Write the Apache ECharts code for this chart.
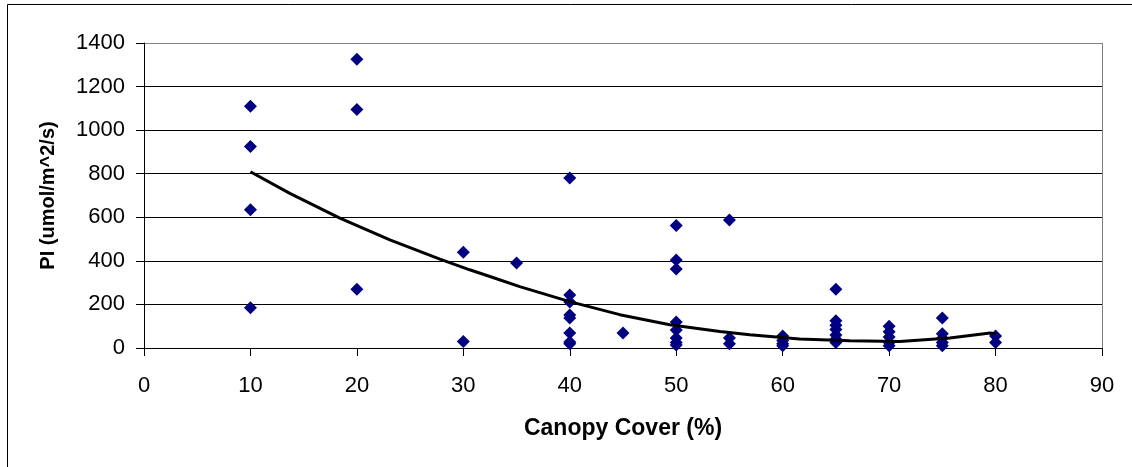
<!DOCTYPE html>
<html>
<head>
<meta charset="utf-8">
<script src="https://cdn.jsdelivr.net/npm/echarts@6/dist/echarts.min.js"></script>
<style>
  html, body { margin: 0; padding: 0; background: #fff; }
  #chart { width: 1132px; height: 467px; }
</style>
</head>
<body>
<div id="chart"></div>
<script>
// canopy cover (%) and PI values
var cover10 = [1110, 925, 635, 185];
var cover20 = [1325, 1095, 270];
var cover30 = [440, 30];
var cover35 = [390];
var cover40 = [780, 243, 211, 151, 138, 69, 28, 20];
var cover45 = [69];
var cover50 = [562, 404, 363, 119, 83, 46, 25, 14];
var cover55 = [588, 46, 20];
var cover60 = [55, 35, 20, 10];
var cover65 = [270, 125, 105, 85, 60, 40, 25];
var cover70 = [100, 75, 50, 25, 10];
var cover75 = [138, 65, 45, 25, 10];
var cover80 = [55, 25];

// trend line
var trendX = [10, 13.7, 18.4, 23.1, 27.8, 30.6, 32.5, 35.3, 40.0, 44.7, 49.4, 54.1, 56.9, 61.6, 66.3, 71.0, 75.7, 79.5, 80];
var trendY = [809, 710, 596, 496, 408, 359, 328, 282, 213, 153, 107, 76, 61, 41, 33, 30, 46, 69, 66];

var groups = [
  [10, cover10], [20, cover20], [30, cover30], [35, cover35], [40, cover40],
  [45, cover45], [50, cover50], [55, cover55], [60, cover60], [65, cover65],
  [70, cover70], [75, cover75], [80, cover80]
];
var points = [];
groups.forEach(function (g) {
  g[1].forEach(function (v) { points.push([g[0], v]); });
});
var trend = trendX.map(function (x, i) { return [x, trendY[i]]; });

var font = "Liberation Sans, Arial, sans-serif";
var chart = echarts.init(document.getElementById("chart"));
chart.setOption({
  animation: false,
  backgroundColor: "#fff",
  grid: { left: 144, right: 30, top: 43, bottom: 119, containLabel: false },
  graphic: [{
    type: "rect",
    shape: { x: 7.5, y: 4.5, width: 1140, height: 480 },
    style: { fill: "none", stroke: "#000", lineWidth: 1 },
    silent: true
  }],
  xAxis: {
    type: "value",
    min: 0, max: 90, interval: 10,
    name: "Canopy Cover (%)",
    nameLocation: "middle",
    nameGap: 69,
    nameTextStyle: { fontFamily: font, fontSize: 23, fontWeight: "bold", color: "#000" },
    axisLine: { show: true, lineStyle: { color: "#000", width: 1 } },
    axisTick: { show: true, inside: false, length: 8, lineStyle: { color: "#000" } },
    axisLabel: { fontFamily: font, fontSize: 22, color: "#000", margin: 27 },
    splitLine: {
      show: true,
      lineStyle: { color: ["transparent", "transparent", "transparent", "transparent", "transparent",
                           "transparent", "transparent", "transparent", "transparent", "#808080"], width: 1 }
    }
  },
  yAxis: {
    type: "value",
    min: 0, max: 1400, interval: 200,
    name: "PI (umol/m^2/s)",
    nameLocation: "middle",
    nameGap: 86,
    nameTextStyle: { fontFamily: font, fontSize: 20, fontWeight: "bold", color: "#000" },
    axisLine: { show: true, lineStyle: { color: "#000", width: 1 } },
    axisTick: { show: true, inside: false, length: 8, lineStyle: { color: "#000" } },
    axisLabel: {
      fontFamily: font, fontSize: 22, color: "#000", margin: 19,
      formatter: function (v) { return String(v); }
    },
    splitLine: {
      show: true,
      lineStyle: { color: ["#000", "#000", "#000", "#000", "#000", "#000", "#000", "#808080"], width: 1 }
    }
  },
  series: [
    {
      type: "scatter",
      data: points,
      symbol: "diamond",
      symbolSize: 13,
      itemStyle: { color: "#000080", opacity: 1 },
      z: 3
    },
    {
      type: "line",
      data: trend,
      showSymbol: false,
      symbol: "none",
      smooth: false,
      lineStyle: { color: "#000", width: 3 },
      z: 4
    }
  ]
});
</script>
</body>
</html>
